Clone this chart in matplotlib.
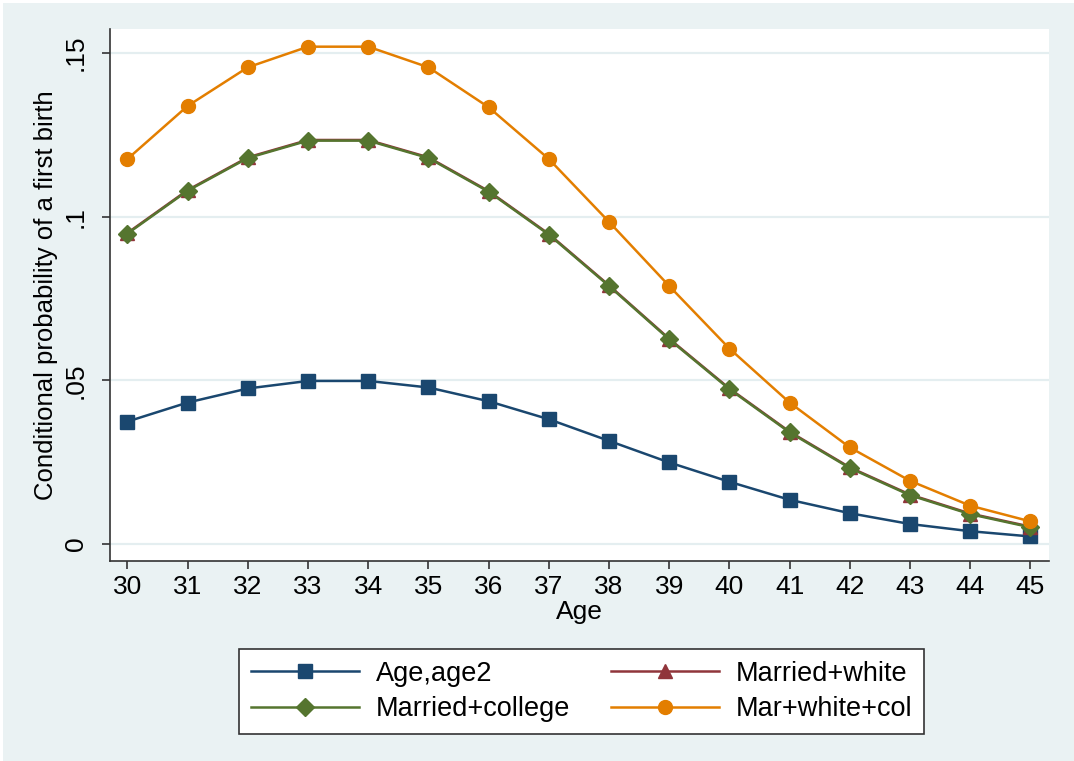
import numpy as np
import matplotlib.pyplot as plt
from matplotlib.patches import Rectangle

# Data
age = np.arange(30, 46)

age_age2 = [0.0374, 0.0432, 0.0475, 0.0498, 0.0498, 0.0478, 0.0436, 0.0381,
            0.0315, 0.0249, 0.0190, 0.0135, 0.0094, 0.0061, 0.0039, 0.0023]
married_white = [0.0950, 0.1081, 0.1181, 0.1234, 0.1234, 0.1181, 0.1078, 0.0947,
                 0.0790, 0.0627, 0.0475, 0.0343, 0.0234, 0.0151, 0.0093, 0.0053]
married_college = [0.0948, 0.1079, 0.1179, 0.1232, 0.1232, 0.1179, 0.1076, 0.0945,
                   0.0788, 0.0625, 0.0473, 0.0341, 0.0232, 0.0149, 0.0091, 0.0051]
mar_white_col = [0.1176, 0.1338, 0.1456, 0.1519, 0.1519, 0.1456, 0.1334, 0.1176,
                 0.0984, 0.0788, 0.0597, 0.0432, 0.0295, 0.0193, 0.0117, 0.0069]

yticks = [0, 0.05, 0.1, 0.15]
ytick_labels = ["0", ".05", ".1", ".15"]

navy = "#1A476F"
maroon = "#90353B"
green = "#55752F"
orange = "#E37E00"
bg = "#EAF2F3"

plt.rcParams["font.family"] = ["Liberation Sans", "DejaVu Sans"]

fig = plt.figure(figsize=(10.74, 7.61), dpi=100, facecolor="white")
fig.patches.append(Rectangle((3 / 1074, 0), 1, 1 - 3 / 761, transform=fig.transFigure,
                             facecolor=bg, edgecolor="none", zorder=-10))

ax = fig.add_axes([110 / 1074, 1 - 561 / 761, 939 / 1074, 532 / 761])
ax.set_facecolor("white")

lw = 1.8
ax.plot(age, age_age2, color=navy, lw=lw, marker="s", ms=9.5, label="Age,age2")
ax.plot(age, married_white, color=maroon, lw=lw, marker="^", ms=10, label="Married+white")
ax.plot(age, married_college, color=green, lw=lw, marker="D", ms=9, label="Married+college")
ax.plot(age, mar_white_col, color=orange, lw=lw, marker="o", ms=10, label="Mar+white+col")

ax.set_xlim(29.71, 45.31)
ax.set_ylim(-0.0052, 0.1573)
ax.set_xticks(age)
ax.set_yticks(yticks)
ax.set_yticklabels(ytick_labels, rotation=90, va="center")
ax.tick_params(axis="both", labelsize=19, length=6, width=1.2, color="#333333")
ax.tick_params(axis="y", pad=10)
ax.tick_params(axis="x", pad=4)
ax.grid(axis="y", color="#E4EEF0", lw=1.6)
ax.set_axisbelow(True)

for s in ["top", "right"]:
    ax.spines[s].set_visible(False)
for s in ["left", "bottom"]:
    ax.spines[s].set_color("#333333")
    ax.spines[s].set_linewidth(1.2)

ax.set_xlabel("Age", fontsize=19, labelpad=1)
ax.set_ylabel("Conditional probability of a first birth", fontsize=18.5, labelpad=4)

# legend fills column by column; reorder so rows read as in the original
handles, labels = ax.get_legend_handles_labels()
order = [0, 2, 1, 3]
leg = fig.legend([handles[i] for i in order], [labels[i] for i in order],
                 ncol=2, loc="center", bbox_to_anchor=(581.5 / 1074, 1 - 691.5 / 761),
                 fontsize=19.5, frameon=True, fancybox=False, edgecolor="#333333",
                 facecolor="white", framealpha=1,
                 handlelength=4.0, handletextpad=0.6, columnspacing=1.5,
                 borderpad=0.45, labelspacing=0.35)
leg.get_frame().set_linewidth(1.2)

fig.savefig("out.png", dpi=100, facecolor=fig.get_facecolor())
